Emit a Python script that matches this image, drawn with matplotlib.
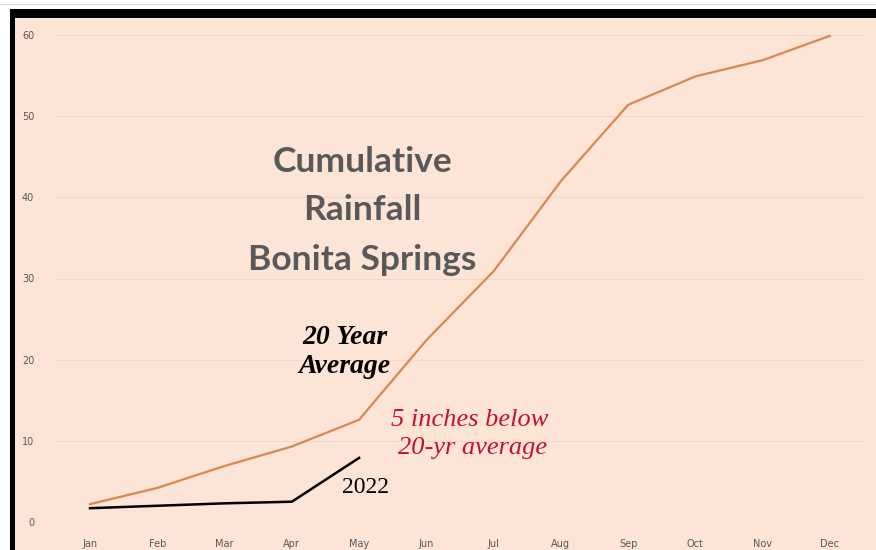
import matplotlib
matplotlib.use("Agg")
import matplotlib.pyplot as plt
from matplotlib.patches import Rectangle

# ── Data (inches, cumulative) ────────────────────────────────────────────────
MONTHS    = ["Jan", "Feb", "Mar", "Apr", "May", "Jun",
             "Jul", "Aug", "Sep", "Oct", "Nov", "Dec"]
AVG_20YR  = [2.2, 4.2, 6.9, 9.3, 12.6, 22.4, 30.9, 42.0, 51.4, 54.9, 56.9, 59.9]
RAIN_2022 = [1.7, 2.0, 2.3, 2.5, 7.9]
Y_TICKS   = [0, 10, 20, 30, 40, 50, 60]

PEACH  = "#FCE4D6"
ORANGE = "#DC8650"
GRAY   = "#595959"
RED    = "#C8102E"
# ─────────────────────────────────────────────────────────────────────────────

W, H = 876, 550
fig = plt.figure(figsize=(W / 100, H / 100), dpi=100)
fig.patch.set_facecolor("white")

# faint spreadsheet lines behind the chart
fig.add_artist(plt.Line2D([0, 1], [1 - 4 / H, 1 - 4 / H], color="#D9D9D9", lw=0.8))

# chart frame: black border + peach fill (cropped at right/bottom)
fig.add_artist(Rectangle((10 / W, 0), 1, 1 - 9 / H, transform=fig.transFigure,
                         facecolor="black", edgecolor="none", zorder=0))
fig.add_artist(Rectangle((15 / W, 0), 1, 1 - 18 / H, transform=fig.transFigure,
                         facecolor=PEACH, edgecolor="none", zorder=0))

# plot area: x -0.5..11.5 -> px 56..864, y 0..60 -> px 522..35
ax = fig.add_axes([56.4 / W, (H - 522) / H, 807.2 / W, 487 / H])
ax.set_facecolor("none")
x = list(range(len(MONTHS)))

ax.plot(x, AVG_20YR, color=ORANGE, lw=1.6, zorder=3)
ax.plot(x[:len(RAIN_2022)], RAIN_2022, color="black", lw=1.8, zorder=4)

ax.set_xlim(-0.5, 11.5)
ax.set_ylim(0, 60)
ax.set_xticks(x)
ax.set_xticklabels(MONTHS)
ax.set_yticks(Y_TICKS)
ax.set_yticklabels([str(v) for v in Y_TICKS])
ax.tick_params(axis="both", length=0, colors=GRAY, labelsize=7)
ax.tick_params(axis="y", pad=16)
ax.tick_params(axis="x", pad=12)
for s in ax.spines.values():
    s.set_visible(False)
ax.grid(axis="y", color="#F3D8C8", lw=0.8)
ax.set_axisbelow(True)

# title inside plot
title_kw = dict(ha="center", va="center", color=GRAY, fontsize=25.5,
                fontweight="bold", family="Lato", zorder=5)
ax.text(4.05, 44.4, "Cumulative", **title_kw)
ax.text(4.05, 38.4, "Rainfall", **title_kw)
ax.text(4.05, 32.3, "Bonita Springs", **title_kw)

serif = dict(ha="center", va="center", family="Liberation Serif", zorder=5)
ax.text(3.79, 22.7, "20 Year", style="italic", fontweight="bold", color="black",
        fontsize=20, **serif)
ax.text(3.79, 19.1, "Average", style="italic", fontweight="bold", color="black",
        fontsize=20, **serif)
ax.text(5.65, 12.6, "5 inches below", style="italic", color=RED, fontsize=19, **serif)
ax.text(5.68, 9.1, "20-yr average", style="italic", color=RED, fontsize=19, **serif)
ax.text(4.10, 4.3, "2022", color="black", fontsize=17, **serif)

fig.savefig("out.png", dpi=100)
